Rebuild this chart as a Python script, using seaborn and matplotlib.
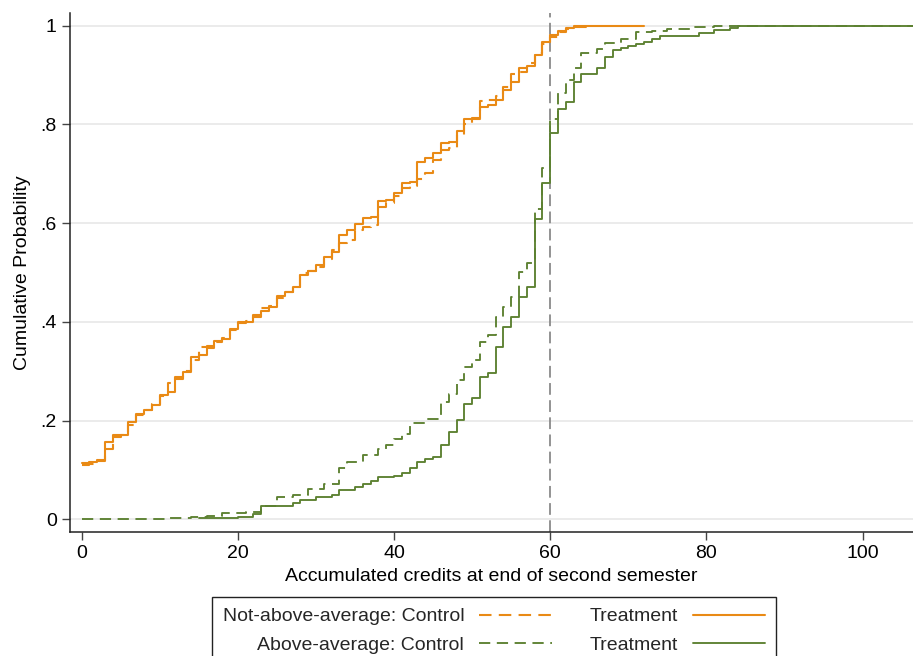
import matplotlib
matplotlib.use("Agg")
import matplotlib.pyplot as plt
from matplotlib.lines import Line2D
import pandas as pd
import seaborn as sns

# Not-above-average students, treatment group
naa_treat_credits = [0, 1, 2, 3, 4, 6, 7, 8, 9, 10, 11, 12, 13, 14, 15, 16, 17, 18, 19, 20,
                     22, 23, 24, 25, 26, 27, 28, 29, 30, 31, 32, 33, 34, 35, 36, 37, 38, 39,
                     40, 41, 42, 43, 44, 45, 46, 47, 48, 49, 50, 51, 52, 53, 54, 55, 56, 57,
                     58, 59, 60, 61, 62, 63, 72]
naa_treat_cdf = [0.113, 0.116, 0.120, 0.157, 0.170, 0.197, 0.213, 0.221, 0.231, 0.251, 0.258,
                 0.289, 0.299, 0.328, 0.332, 0.346, 0.362, 0.366, 0.385, 0.400, 0.414, 0.422,
                 0.430, 0.452, 0.461, 0.471, 0.495, 0.504, 0.515, 0.532, 0.542, 0.575, 0.586,
                 0.598, 0.610, 0.612, 0.644, 0.646, 0.662, 0.681, 0.683, 0.723, 0.733, 0.743,
                 0.762, 0.765, 0.786, 0.811, 0.813, 0.836, 0.840, 0.850, 0.870, 0.887, 0.914,
                 0.919, 0.941, 0.968, 0.982, 0.990, 0.995, 1.000, 1.000]

# Not-above-average students, control group
naa_ctrl_credits = [0, 1, 2, 3, 4, 5, 6, 7, 8, 9, 10, 11, 12, 13, 14, 15, 16, 17, 18, 19, 20,
                    21, 22, 23, 24, 25, 26, 27, 28, 29, 30, 31, 32, 33, 34, 35, 36, 37, 38,
                    39, 40, 41, 42, 43, 44, 45, 46, 47, 48, 49, 50, 51, 52, 53, 54, 55, 56,
                    57, 58, 59, 60, 61, 62, 63, 65]
naa_ctrl_cdf = [0.109, 0.112, 0.118, 0.143, 0.166, 0.171, 0.190, 0.211, 0.222, 0.233, 0.250,
                0.277, 0.284, 0.301, 0.322, 0.350, 0.352, 0.360, 0.368, 0.383, 0.398, 0.402,
                0.410, 0.429, 0.432, 0.448, 0.460, 0.471, 0.498, 0.503, 0.512, 0.528, 0.545,
                0.560, 0.566, 0.586, 0.592, 0.596, 0.633, 0.641, 0.655, 0.671, 0.676, 0.690,
                0.701, 0.728, 0.748, 0.752, 0.779, 0.800, 0.812, 0.848, 0.850, 0.857, 0.875,
                0.903, 0.906, 0.925, 0.945, 0.963, 0.978, 0.988, 0.994, 0.998, 1.000]

# Above-average students, treatment group
aa_treat_credits = [15, 20, 22, 23, 27, 28, 30, 32, 33, 35, 36, 37, 38, 40, 41, 42, 43, 44,
                    45, 46, 47, 48, 49, 50, 51, 52, 53, 54, 55, 56, 57, 58, 59, 60, 61, 62,
                    63, 64, 66, 67, 68, 69, 70, 71, 72, 73, 74, 79, 81, 83, 84, 107]
aa_treat_cdf = [0.002, 0.005, 0.010, 0.026, 0.033, 0.039, 0.044, 0.049, 0.059, 0.066, 0.072,
                0.078, 0.085, 0.087, 0.093, 0.103, 0.116, 0.121, 0.126, 0.150, 0.177, 0.201,
                0.233, 0.245, 0.289, 0.296, 0.350, 0.390, 0.410, 0.450, 0.471, 0.608, 0.682,
                0.782, 0.832, 0.846, 0.886, 0.903, 0.915, 0.936, 0.952, 0.956, 0.960, 0.964,
                0.968, 0.974, 0.980, 0.986, 0.991, 0.995, 1.000, 1.000]

# Above-average students, control group
aa_ctrl_credits = [0, 11, 14, 16, 18, 21, 23, 25, 27, 29, 31, 33, 34, 36, 38, 39, 40, 41, 42,
                   44, 46, 47, 48, 49, 50, 51, 52, 53, 54, 55, 56, 57, 58, 59, 60, 61, 62,
                   63, 64, 66, 67, 69, 71, 73, 75, 78, 81, 107]
aa_ctrl_cdf = [0.001, 0.003, 0.005, 0.007, 0.012, 0.015, 0.027, 0.045, 0.049, 0.061, 0.072,
               0.104, 0.116, 0.130, 0.143, 0.150, 0.163, 0.173, 0.194, 0.204, 0.238, 0.254,
               0.282, 0.309, 0.322, 0.360, 0.373, 0.410, 0.431, 0.451, 0.502, 0.519, 0.628,
               0.711, 0.811, 0.863, 0.890, 0.914, 0.944, 0.954, 0.965, 0.973, 0.988, 0.990,
               0.993, 0.997, 1.000, 1.000]

y_ticks = [0, 0.2, 0.4, 0.6, 0.8, 1.0]
y_tick_labels = ["0", ".2", ".4", ".6", ".8", "1"]
x_ticks = [0, 20, 40, 60, 80, 100]

ORANGE = "#E98A15"
GREEN = "#5C8131"
DASH = (6.0, 3.5)

sns.set_theme(style="white")
plt.rcParams["font.family"] = ["Liberation Sans", "DejaVu Sans"]

fig = plt.figure(figsize=(9.13, 6.56), dpi=100)
ax = fig.add_axes([70 / 913, 124 / 656, 843 / 913, 519 / 656])

# Horizontal grid lines and the 60-credit reference line
for yv in y_ticks:
    ax.axhline(yv, color="#E6E6E6", lw=1.1, zorder=0)
ax.axvline(60, color="#8A8A8A", lw=1.3, dashes=(6.5, 3.0), zorder=1)

series = [
    (naa_ctrl_credits, naa_ctrl_cdf, ORANGE, True, 1.5),
    (naa_treat_credits, naa_treat_cdf, ORANGE, False, 1.5),
    (aa_ctrl_credits, aa_ctrl_cdf, GREEN, True, 1.35),
    (aa_treat_credits, aa_treat_cdf, GREEN, False, 1.35),
]
handles = []
for credits, cdf, color, dashed, lw in series:
    df = pd.DataFrame({"credits": credits, "cdf": cdf})
    sns.lineplot(data=df, x="credits", y="cdf", ax=ax, color=color, lw=lw,
                 drawstyle="steps-post", estimator=None, sort=False, zorder=3)
    line = ax.lines[-1]
    if dashed:
        line.set_dashes(DASH)
    handles.append(Line2D([], [], color=color, lw=lw,
                          dashes=DASH if dashed else (None, None),
                          linestyle="--" if dashed else "-"))
if ax.get_legend() is not None:
    ax.get_legend().remove()

ax.set_xlim(-1.49, 106.45)
ax.set_ylim(-0.026, 1.026)
ax.set_xticks(x_ticks)
ax.set_xticklabels([str(v) for v in x_ticks])
ax.set_yticks(y_ticks)
ax.set_yticklabels(y_tick_labels)

for side in ["top", "right"]:
    ax.spines[side].set_visible(False)
for side in ["left", "bottom"]:
    ax.spines[side].set_color("#222222")
    ax.spines[side].set_linewidth(1.1)

ax.tick_params(axis="both", which="major", direction="out", length=5.5, width=1.0,
               color="#444444", labelsize=14, labelcolor="black", pad=4,
               left=True, bottom=True)

ax.set_xlabel("Accumulated credits at end of second semester", fontsize=14,
              color="black", labelpad=4)
ax.set_ylabel("Cumulative Probability", fontsize=14, color="black", labelpad=7)

# Legend: two rows (student group), two columns (control / treatment)
leg_handles = [handles[0], handles[2], handles[1], handles[3]]
leg_labels = ["Not-above-average: Control", "Above-average: Control",
              "Treatment", "Treatment"]
leg = fig.legend(leg_handles, leg_labels, ncol=2, markerfirst=False,
                 loc="upper center", bbox_to_anchor=(494 / 913, 1 - 597 / 656),
                 borderaxespad=0, fontsize=14, handlelength=3.75,
                 handletextpad=0.75, columnspacing=1.95, labelspacing=0.55,
                 frameon=True, fancybox=False, edgecolor="#222222",
                 framealpha=1.0, borderpad=0.55)
leg.get_frame().set_linewidth(1.0)

fig.savefig("out.png", dpi=100)
